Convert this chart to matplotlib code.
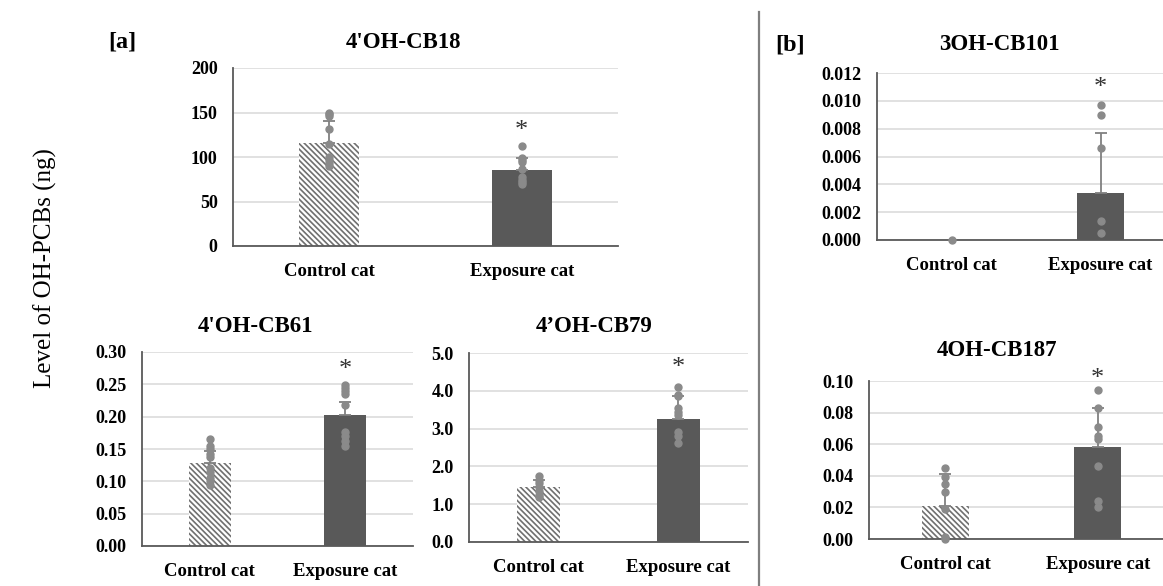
import matplotlib
matplotlib.use("Agg")
import matplotlib.pyplot as plt
import numpy as np

plt.rcParams["font.family"] = ["Liberation Serif", "DejaVu Serif"]
plt.rcParams["hatch.linewidth"] = 1.2

W, H = 1163, 586

groups = ["Control cat", "Exposure cat"]

# mean, upper error (SD) and individual points per compound
cb18_mean = [115.5, 85.0]
cb18_err = [24.5, 14.0]
cb18_ctrl_pts = [150, 148, 146, 132, 115, 100, 97, 93, 90]
cb18_expo_pts = [112, 99, 97, 94, 86, 78, 74, 72, 70]

cb61_mean = [0.128, 0.202]
cb61_err = [0.019, 0.020]
cb61_ctrl_pts = [0.166, 0.154, 0.150, 0.143, 0.138, 0.120, 0.115, 0.105, 0.100, 0.095]
cb61_expo_pts = [0.249, 0.245, 0.240, 0.235, 0.218, 0.177, 0.170, 0.163, 0.155]

cb79_mean = [1.45, 3.25]
cb79_err = [0.20, 0.60]
cb79_ctrl_pts = [1.75, 1.65, 1.55, 1.45, 1.35, 1.25, 1.20]
cb79_expo_pts = [4.10, 3.90, 3.85, 3.55, 3.45, 3.35, 2.90, 2.80, 2.62]

cb101_mean = [0.0, 0.0034]
cb101_err = [0.0, 0.0043]
cb101_ctrl_pts = [0.0]
cb101_expo_pts = [0.0097, 0.0090, 0.0066, 0.0014, 0.0005]

cb187_mean = [0.021, 0.058]
cb187_err = [0.020, 0.025]
cb187_ctrl_pts = [0.045, 0.039, 0.035, 0.030, 0.019, 0.001, 0.0]
cb187_expo_pts = [0.094, 0.083, 0.071, 0.065, 0.063, 0.046, 0.024, 0.020]


def fpos(x, y):
    return x / W, 1 - y / H


def make_axes(fig, left, right, top, bottom):
    return fig.add_axes([left / W, 1 - bottom / H, (right - left) / W, (bottom - top) / H])


def draw_panel(ax, means, errs, ctrl_pts, expo_pts, ymax, step, fmt, star_y):
    x = np.arange(2)
    ax.bar(x[0], means[0], width=0.31, color="white", edgecolor="#707070",
           hatch="\\\\\\\\\\\\", linewidth=0, zorder=2)
    ax.bar(x[1], means[1], width=0.31, color="#595959", linewidth=0, zorder=2)
    for i in range(2):
        if errs[i] > 0:
            ax.errorbar(x[i], means[i], yerr=[[0], [errs[i]]], color="#808080",
                        elinewidth=1.3, capsize=4, capthick=1.3, zorder=3)
    ax.plot([x[0]] * len(ctrl_pts), ctrl_pts, "o", color="#8a8a8a", ms=5, zorder=4, clip_on=False)
    ax.plot([x[1]] * len(expo_pts), expo_pts, "o", color="#8a8a8a", ms=5, zorder=4, clip_on=False)
    ax.annotate("*", (x[1], star_y), xytext=(0, -4), textcoords="offset points",
                ha="center", va="center", fontsize=19, color="#333333", annotation_clip=False)

    ax.set_xlim(-0.5, 1.5)
    ax.set_ylim(0, ymax)
    ticks = np.arange(0, ymax + step / 2, step)
    ax.set_yticks(ticks)
    ax.set_yticklabels([fmt % t for t in ticks], fontsize=13, fontweight="bold")
    ax.set_xticks(x)
    ax.set_xticklabels(groups, fontsize=13.5, fontweight="bold")
    ax.tick_params(axis="both", length=0)
    ax.tick_params(axis="y", pad=11)
    ax.tick_params(axis="x", pad=12)
    ax.grid(axis="y", color="#dcdcdc", linewidth=1.2, zorder=0)
    ax.set_axisbelow(True)
    for s in ["top", "right"]:
        ax.spines[s].set_visible(False)
    ax.spines["left"].set_color("#595959")
    ax.spines["bottom"].set_color("#595959")
    ax.spines["left"].set_linewidth(1.3)
    ax.spines["bottom"].set_linewidth(1.3)


fig = plt.figure(figsize=(W / 100, H / 100), dpi=100)

ax1 = make_axes(fig, 233, 618, 68, 246)
draw_panel(ax1, cb18_mean, cb18_err, cb18_ctrl_pts, cb18_expo_pts, 200, 50, "%d", 136)

ax2 = make_axes(fig, 142, 413, 352, 546)
draw_panel(ax2, cb61_mean, cb61_err, cb61_ctrl_pts, cb61_expo_pts, 0.30, 0.05, "%.2f", 0.280)

ax3 = make_axes(fig, 469, 748, 353, 542)
draw_panel(ax3, cb79_mean, cb79_err, cb79_ctrl_pts, cb79_expo_pts, 5.0, 1.0, "%.1f", 4.76)

ax4 = make_axes(fig, 877, 1175, 73, 240)
draw_panel(ax4, cb101_mean, cb101_err, cb101_ctrl_pts, cb101_expo_pts, 0.012, 0.002, "%.3f", 0.01135)

ax5 = make_axes(fig, 869, 1174, 381, 539)
draw_panel(ax5, cb187_mean, cb187_err, cb187_ctrl_pts, cb187_expo_pts, 0.10, 0.02, "%.2f", 0.105)

# panel titles and labels (centred over each chart area, like Excel does)
titles = [("4'OH-CB18", 403, 43), ("4'OH-CB61", 256, 327), ("4\u2019OH-CB79", 594, 327),
          ("3OH-CB101", 999, 44), ("4OH-CB187", 997, 350)]
for txt, tx, ty in titles:
    fig.text(*fpos(tx, ty), txt, ha="center", va="center", fontsize=16.5, fontweight="bold")

fig.text(*fpos(122, 42), "[a]", ha="center", va="center", fontsize=17.5, fontweight="bold")
fig.text(*fpos(790, 45), "[b]", ha="center", va="center", fontsize=17.5, fontweight="bold")
fig.text(*fpos(45, 268), "Level of OH-PCBs (ng)", ha="center", va="center",
         rotation=90, fontsize=18)

# divider between [a] and [b]
fig.add_artist(plt.Line2D([759 / W, 759 / W], [1 - 12 / H, 0], color="#7f7f7f", linewidth=1.6))

fig.savefig("out.png", dpi=100)
